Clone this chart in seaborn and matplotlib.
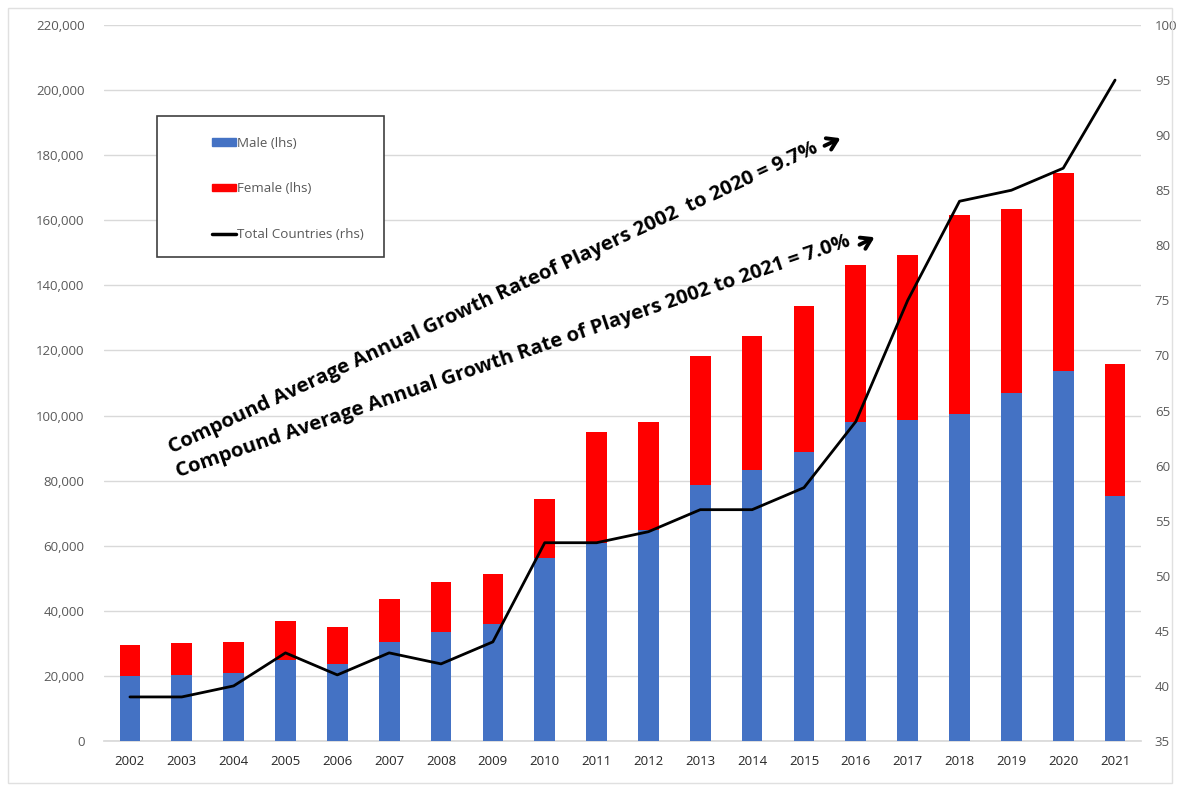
import numpy as np
import pandas as pd
import matplotlib
matplotlib.use("Agg")
import matplotlib.pyplot as plt
import seaborn as sns
from matplotlib.patches import Patch, Rectangle, FancyArrowPatch
from matplotlib.lines import Line2D

years = [str(y) for y in range(2002, 2022)]
male = [20000, 20400, 21000, 24900, 23700, 30400, 33500, 35900, 56200, 60800,
        64800, 78600, 83300, 88800, 98000, 98600, 100500, 106900, 113700, 75300]
total_players = [29500, 30100, 30400, 36900, 35000, 43600, 48800, 51300, 74300, 94900,
                 98000, 118300, 124400, 133600, 146200, 149300, 161600, 163400, 174500, 115800]
countries = [39, 39, 40, 43, 41, 43, 42, 44, 53, 53, 54, 56, 56, 58, 64, 75, 84, 85, 87, 95]

left_ticks = list(range(0, 220001, 20000))
right_ticks = list(range(35, 101, 5))

df = pd.DataFrame({"year": years, "male": male, "total": total_players,
                   "countries": countries, "idx": np.arange(len(years))})

sns.set_theme(style="white")
plt.rcParams['font.family'] = ['Open Sans', 'DejaVu Sans']

W, H = 1180, 791
fig = plt.figure(figsize=(W / 100, H / 100), dpi=100)
ax = fig.add_axes([104 / W, 1 - 741 / H, (1141 - 104) / W, (741 - 25) / H])

blue = "#4472C4"
red = "#FF0000"
grey = "#595959"

sns.barplot(data=df, x="year", y="total", color=red, width=0.4, saturation=1,
            ax=ax, order=years, zorder=2, linewidth=0)
sns.barplot(data=df, x="year", y="male", color=blue, width=0.4, saturation=1,
            ax=ax, order=years, zorder=3, linewidth=0)

ax.set_ylim(0, 220000)
ax.set_xlim(-0.5, len(years) - 0.5)
ax.set_yticks(left_ticks)
ax.set_yticklabels([f"{v:,}" for v in left_ticks])
ax.yaxis.grid(True, color="#d9d9d9", linewidth=1)
ax.set_axisbelow(True)
ax.set_xlabel("")
ax.set_ylabel("")
for s in ["top", "right", "left"]:
    ax.spines[s].set_visible(False)
ax.spines["bottom"].set_color("#d9d9d9")
ax.tick_params(axis="y", length=0, pad=14, labelsize=9.5, labelcolor=grey)
ax.tick_params(axis="x", length=0, pad=10, labelsize=9.5, labelcolor="#262626")

ax2 = ax.twinx()
sns.lineplot(data=df, x="idx", y="countries", color="black", linewidth=2, ax=ax2,
             zorder=5)
ax2.set_ylim(35, 100)
ax2.set_yticks(right_ticks)
ax2.set_ylabel("")
ax2.set_xlabel("")
ax2.set_xlim(-0.5, len(years) - 0.5)
for s in ["top", "right", "left", "bottom"]:
    ax2.spines[s].set_visible(False)
ax2.tick_params(axis="y", length=0, pad=10, labelsize=9.5, labelcolor=grey)
ax2.grid(False)

# Annotations
fig.text(172 / W, 1 - 453 / H,
         "Compound Average Annual Growth Rateof Players 2002  to 2020 = 9.7%",
         rotation=25.0, rotation_mode="anchor", ha="left", va="baseline",
         fontsize=14.7, fontweight="bold", color="black")
fig.text(178 / W, 1 - 477 / H,
         "Compound Average Annual Growth Rate of Players 2002 to 2021 = 7.0%",
         rotation=19.0, rotation_mode="anchor", ha="left", va="baseline",
         fontsize=14.6, fontweight="bold", color="black")
for (x0, y0, x1, y1) in [(822, 147, 843, 137), (857, 246, 877, 236)]:
    fig.patches.append(FancyArrowPatch((x0 / W, 1 - y0 / H), (x1 / W, 1 - y1 / H),
                                       transform=fig.transFigure,
                                       arrowstyle="->,head_length=7,head_width=4.5",
                                       linewidth=2.8, color="black",
                                       mutation_scale=1, zorder=12))

# Legend box
fig.patches.append(Rectangle((157 / W, 1 - 257 / H), (384 - 157) / W, (257 - 116) / H,
                             transform=fig.transFigure, fill=True, facecolor="white",
                             edgecolor="#404040", linewidth=1.2, zorder=10))
handles = [Patch(facecolor=blue, edgecolor=blue, label="Male (lhs)"),
           Patch(facecolor=red, edgecolor=red, label="Female (lhs)"),
           Line2D([0], [0], color="black", linewidth=2.5, label="Total Countries (rhs)")]
leg = fig.legend(handles=handles, loc="upper left",
                 bbox_to_anchor=(205 / W, 1 - 130 / H), frameon=False,
                 fontsize=9.6, labelspacing=2.45, handlelength=1.8, handleheight=0.5,
                 handletextpad=0.1, borderpad=0)
for t in leg.get_texts():
    t.set_color(grey)
leg.set_zorder(11)

# faint outer frame
fig.patches.append(Rectangle((8 / W, 8 / H), (W - 16) / W, (H - 16) / H,
                             transform=fig.transFigure, fill=False,
                             edgecolor="#e0e0e0", linewidth=1, zorder=0))

fig.savefig("out.png", dpi=100)
